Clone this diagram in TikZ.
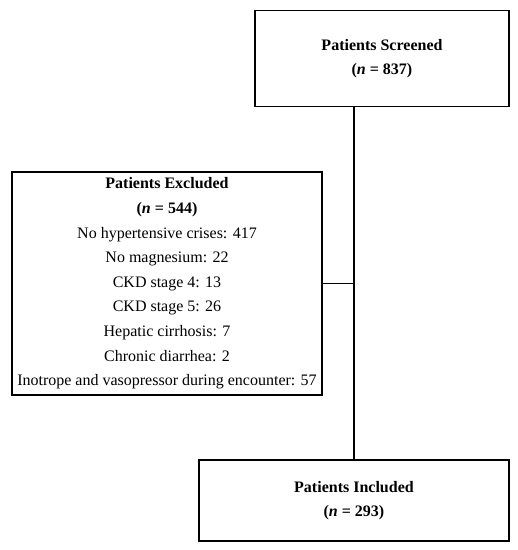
\documentclass[tikz,border=0pt]{standalone}
\usepackage{fontspec}
\setmainfont{Liberation Serif}

\tikzset{
  flowbox/.style={draw, line width=1.1pt, align=center, inner sep=0pt,
    font=\fontsize{16}{24.6}\selectfont},
  link/.style={line width=1.1pt},
}

\begin{document}
\begin{tikzpicture}[x=1pt,y=-1pt]
\useasboundingbox (0,0) rectangle (518,550);

\node[flowbox, minimum width=254pt, minimum height=96pt] (screened) at (382,58.5)
  {\textbf{Patients Screened}\\\textbf{(\textit{n} = 837)}};

\node[flowbox, minimum width=310pt, minimum height=223pt] (excluded) at (167,283.5)
  {\textbf{Patients Excluded}\\
   \textbf{(\textit{n} = 544)}\\
   No hypertensive crises: 417\\
   No magnesium: 22\\
   CKD stage 4: 13\\
   CKD stage 5: 26\\
   Hepatic cirrhosis: 7\\
   Chronic diarrhea: 2\\
   Inotrope and vasopressor during encounter: 57};

\node[flowbox, minimum width=310pt, minimum height=81pt] (included) at (354,500.5)
  {\textbf{Patients Included}\\\textbf{(\textit{n} = 293)}};

% main line and side branch
\draw[link] (included.north) -- (included.north |- screened.south);
\draw[link] (excluded.east) -- (excluded.east -| included.north);

\end{tikzpicture}
\end{document}
